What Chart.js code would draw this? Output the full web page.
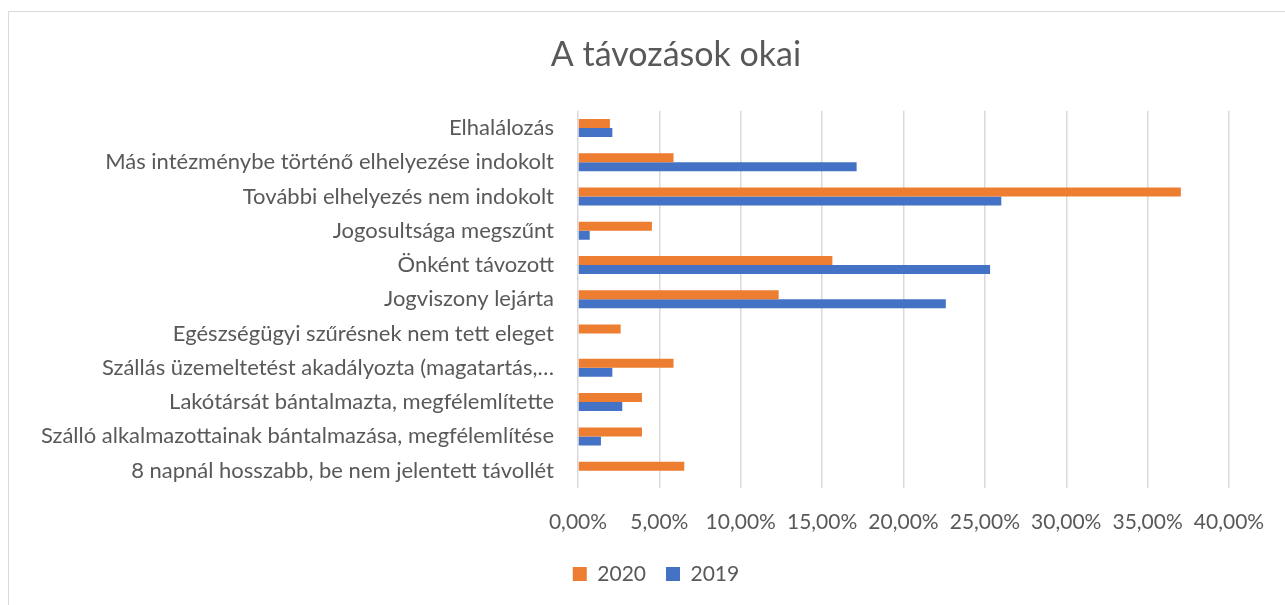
<!DOCTYPE html>
<html>

<head>
    <meta charset="utf-8">
    <script src="https://cdn.jsdelivr.net/npm/chart.js@4.4.1/dist/chart.umd.min.js"></script>
    <style>
        html, body {
            margin: 0;
            padding: 0;
            overflow: hidden;
            background: #ffffff;
        }

        #frame {
            position: absolute;
            left: 8px;
            top: 11px;
            width: 1340px;
            height: 620px;
            border-left: 1.5px solid #d9d9d9;
            border-top: 1.5px solid #d9d9d9;
        }

        #chart-container {
            position: absolute;
            left: 8px;
            top: 11px;
            width: 1340px;
            height: 597px;
        }
    </style>
</head>

<body>
    <div id="frame"></div>
    <div id="chart-container">
        <canvas id="reasonsChart"></canvas>
    </div>

    <script>
        // categories, top to bottom
        const categories = [
            "Elhalálozás",
            "Más intézménybe történő elhelyezése indokolt",
            "További elhelyezés nem indokolt",
            "Jogosultsága megszűnt",
            "Önként távozott",
            "Jogviszony lejárta",
            "Egészségügyi szűrésnek nem tett eleget",
            "Szállás üzemeltetést akadályozta (magatartás,…",
            "Lakótársát bántalmazta, megfélemlítette",
            "Szálló alkalmazottainak bántalmazása, megfélemlítése",
            "8 napnál hosszabb, be nem jelentett távollét"
        ];

        // percentages
        const values2020 = [1.96, 5.87, 37.04, 4.54, 15.63, 12.33, 2.62, 5.87, 3.93, 3.93, 6.53];
        const values2019 = [2.11, 17.12, 26.01, 0.72, 25.32, 22.6, 0, 2.11, 2.72, 1.41, 0];

        const seriesNames = ["2020", "2019"];
        const seriesColors = ['#ED7D31', '#4472C4'];

        const textColor = '#595959';
        const fontFamily = 'Lato, "Open Sans", sans-serif';

        // title and legend are centred on the whole chart, not just the plot side
        const recentre = {
            id: 'recentre',
            afterLayout: function (chart) {
                chart.titleBlock.left = 0;
                chart.titleBlock.right = 1336;
                const lg = chart.legend;
                const h = lg.bottom - lg.top;
                lg.left = 0;
                lg.right = 1296;
                lg.top = 558 - h / 2;
                lg.bottom = lg.top + h;
            }
        };

        const ctx = document.getElementById('reasonsChart').getContext('2d');

        const reasonsChart = new Chart(ctx, {
            type: 'bar',
            data: {
                labels: categories,
                datasets: [
                    {
                        label: seriesNames[0],
                        data: values2020,
                        backgroundColor: seriesColors[0],
                        categoryPercentage: 0.525,
                        barPercentage: 1.0
                    },
                    {
                        label: seriesNames[1],
                        data: values2019,
                        backgroundColor: seriesColors[1],
                        categoryPercentage: 0.525,
                        barPercentage: 1.0
                    }
                ]
            },
            options: {
                indexAxis: 'y',
                responsive: true,
                maintainAspectRatio: false,
                animation: false,
                layout: {
                    padding: { top: 0, right: 119, bottom: 0, left: 0 }
                },
                scales: {
                    x: {
                        min: 0,
                        max: 40,
                        ticks: {
                            stepSize: 5,
                            color: textColor,
                            padding: 22,
                            font: { family: fontFamily, size: 21 },
                            maxRotation: 0,
                            callback: function (value) {
                                return value.toFixed(2).replace('.', ',') + '%';
                            }
                        },
                        grid: {
                            color: '#d9d9d9',
                            lineWidth: 1.5,
                            drawTicks: false
                        },
                        border: { display: false }
                    },
                    y: {
                        ticks: {
                            color: textColor,
                            padding: 24,
                            autoSkip: false,
                            font: { family: fontFamily, size: 22 }
                        },
                        grid: { display: false, drawTicks: false },
                        border: { display: false },
                        afterFit: function (scale) {
                            scale.width = 570;
                        }
                    }
                },
                plugins: {
                    title: {
                        display: true,
                        text: 'A távozások okai',
                        color: textColor,
                        font: { family: fontFamily, size: 34, weight: 'normal' },
                        padding: { top: 24, bottom: 35 }
                    },
                    legend: {
                        position: 'bottom',
                        labels: {
                            color: textColor,
                            boxWidth: 14,
                            boxHeight: 14,
                            padding: 20,
                            font: { family: fontFamily, size: 21 }
                        }
                    },
                    tooltip: { enabled: false }
                }
            },
            plugins: [recentre]
        });
    </script>
</body>

</html>
